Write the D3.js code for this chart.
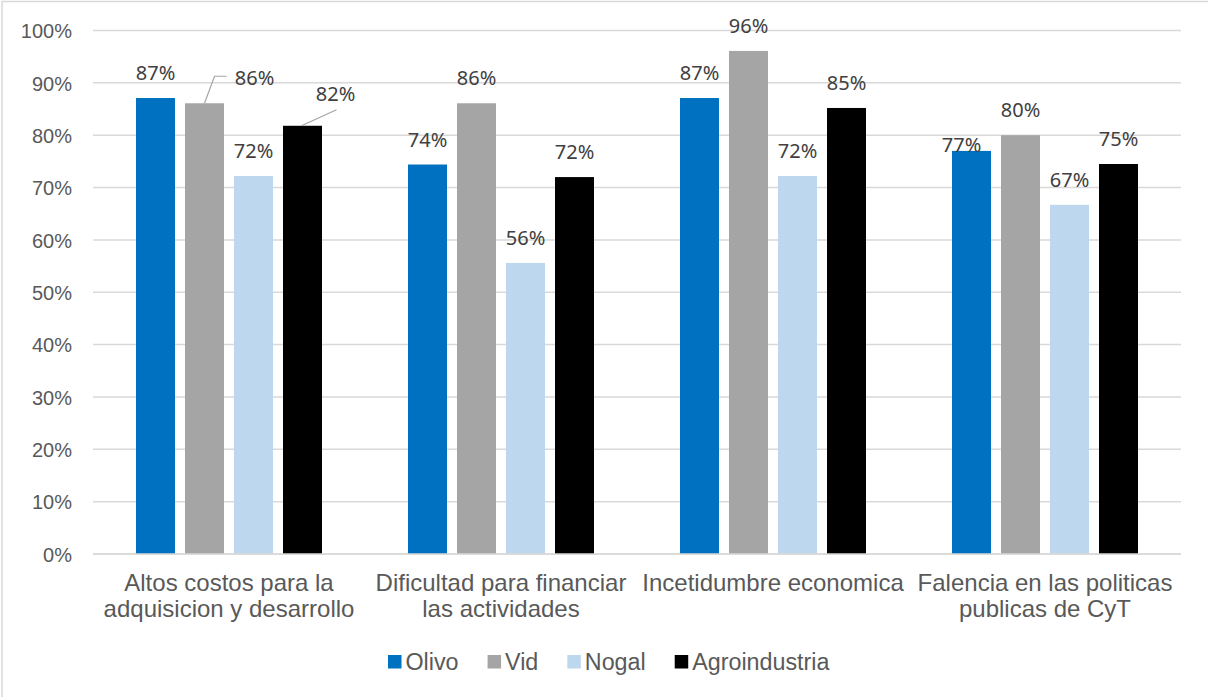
<!DOCTYPE html>
<html>
<head>
<meta charset="utf-8">
<script src="https://cdn.jsdelivr.net/npm/d3@7"></script>
<style>
  html, body { margin: 0; padding: 0; background: #fff; }
  svg { display: block; }
</style>
</head>
<body>
<svg id="chart" width="1208" height="697"></svg>
<script>
// ---- data ----
const categories = [
  ["Altos costos para la", "adquisicion y desarrollo"],
  ["Dificultad para financiar", "las actividades"],
  ["Incetidumbre economica"],
  ["Falencia en las politicas", "publicas de CyT"]
];
const seriesNames = ["Olivo", "Vid", "Nogal", "Agroindustria"];
const olivo = [87.1, 74.4, 87.1, 77.0];
const vid = [86.1, 86.1, 96.1, 80.0];
const nogal = [72.2, 55.6, 72.2, 66.7];
const agroindustria = [81.8, 72.0, 85.2, 74.5];
const yTicks = [0, 10, 20, 30, 40, 50, 60, 70, 80, 90, 100];

const seriesValues = [olivo, vid, nogal, agroindustria];
const colors = ["#0070C0", "#A5A5A5", "#BDD7EE", "#000000"];

// manual label adjustments (as in the original chart)
const labelNudges = {
  "0-1": { dx: 50, dy: 0, leader: true },
  "0-3": { dx: 33, dy: -7, leader: true },
  "3-0": { dx: -10, dy: 19 }
};

(function () {
const svg = d3.select("#chart");
const W = 1208, H = 697;
const pL = 93, pR = 1181, pT = 30.5, pB = 554;
const textColor = "#595959";

// border
svg.append("rect").attr("x", 2).attr("y", 1.5).attr("width", W + 10).attr("height", H + 10)
  .attr("fill", "none").attr("stroke", "#D9D9D9").attr("stroke-width", 1.5);

const y = d3.scaleLinear().domain([0, 100]).range([pB, pT]);
const x0 = d3.scaleBand().domain(d3.range(categories.length)).range([pL, pR]).paddingInner(0).paddingOuter(0);
const groupW = 186;
const x1 = d3.scaleBand().domain(d3.range(seriesNames.length))
  .range([(x0.bandwidth() - groupW) / 2, (x0.bandwidth() + groupW) / 2])
  .paddingInner(10 / 49).paddingOuter(0);

// gridlines
svg.append("g").selectAll("line").data(yTicks).join("line")
  .attr("x1", pL).attr("x2", pR)
  .attr("y1", d => y(d)).attr("y2", d => y(d))
  .attr("stroke", "#D9D9D9").attr("stroke-width", 1.5);

// y axis labels via d3 axis
const yAxis = d3.axisLeft(y).tickValues(yTicks).tickFormat(d => d + "%").tickSize(0).tickPadding(0);
const gy = svg.append("g").attr("transform", `translate(${72},0)`).call(yAxis);
gy.select(".domain").remove();
gy.selectAll("text").attr("fill", textColor)
  .style("font-family", "'Liberation Sans', Arial, sans-serif").style("font-size", "20px")
  .attr("dy", "0.36em");

// bars
const groups = svg.append("g").selectAll("g").data(categories).join("g")
  .attr("transform", (d, i) => `translate(${x0(i)},0)`);

groups.selectAll("rect").data((d, i) => seriesValues.map((s, j) => ({ cat: i, s: j, v: s[i] })))
  .join("rect")
  .attr("x", d => x1(d.s))
  .attr("width", x1.bandwidth())
  .attr("y", d => y(d.v))
  .attr("height", d => y(0) - y(d.v))
  .attr("fill", d => colors[d.s]);

// baseline
svg.append("line").attr("x1", pL).attr("x2", pR).attr("y1", y(0)).attr("y2", y(0))
  .attr("stroke", "#D9D9D9").attr("stroke-width", 1.5);

// data labels
const labelData = [];
categories.forEach((c, i) => seriesValues.forEach((s, j) => {
  const cx = x0(i) + x1(j) + x1.bandwidth() / 2;
  const bt = y(s[i]);
  const n = labelNudges[i + "-" + j] || { dx: 0, dy: 0 };
  labelData.push({ cx, bt, v: s[i], lx: cx + n.dx, ly: bt - 25 + n.dy, leader: n.leader, j });
}));

const lg = svg.append("g");
labelData.filter(d => d.leader).forEach(d => {
  if (d.j === 1) {
    lg.append("path")
      .attr("d", `M${d.cx},${d.bt} L${d.cx + 10},${d.ly - 2} L${d.lx - 28},${d.ly - 2}`)
      .attr("fill", "none").attr("stroke", "#A5A5A5").attr("stroke-width", 1.2);
  } else {
    lg.append("path")
      .attr("d", `M${d.cx - 1},${d.bt} L${d.lx + 1},${d.ly + 16}`)
      .attr("fill", "none").attr("stroke", "#A5A5A5").attr("stroke-width", 1.2);
  }
});

svg.append("g").selectAll("text").data(labelData).join("text")
  .attr("x", d => d.lx).attr("y", d => d.ly)
  .attr("text-anchor", "middle").attr("dy", "0.36em")
  .attr("fill", "#404040")
  .style("font-family", "'Noto Sans', sans-serif").style("font-size", "20px")
  .text(d => Math.round(d.v) + "%");

// category labels
const catG = svg.append("g").selectAll("text").data(categories).join("text")
  .attr("text-anchor", "middle")
  .attr("fill", textColor)
  .style("font-family", "'Liberation Sans', Arial, sans-serif").style("font-size", "24px");
catG.each(function (lines, i) {
  const t = d3.select(this);
  lines.forEach((ln, k) => {
    t.append("tspan").attr("x", x0(i) + x0.bandwidth() / 2).attr("y", 582 + k * 26.5)
      .attr("dy", "0.36em").text(ln);
  });
});

// legend
const leg = svg.append("g");
let lx = 388;
seriesNames.forEach((name, j) => {
  const g = leg.append("g").attr("transform", `translate(${lx},0)`);
  g.append("rect").attr("x", 0).attr("y", 655).attr("width", 13.5).attr("height", 13.5).attr("fill", colors[j]);
  const t = g.append("text").attr("x", 17.5).attr("y", 662).attr("dy", "0.36em")
    .attr("fill", textColor)
    .style("font-family", "'Liberation Sans', Arial, sans-serif").style("font-size", "23.3px")
    .text(name);
  lx += 17.5 + t.node().getComputedTextLength() + 29;
});
})();
</script>
</body>
</html>
